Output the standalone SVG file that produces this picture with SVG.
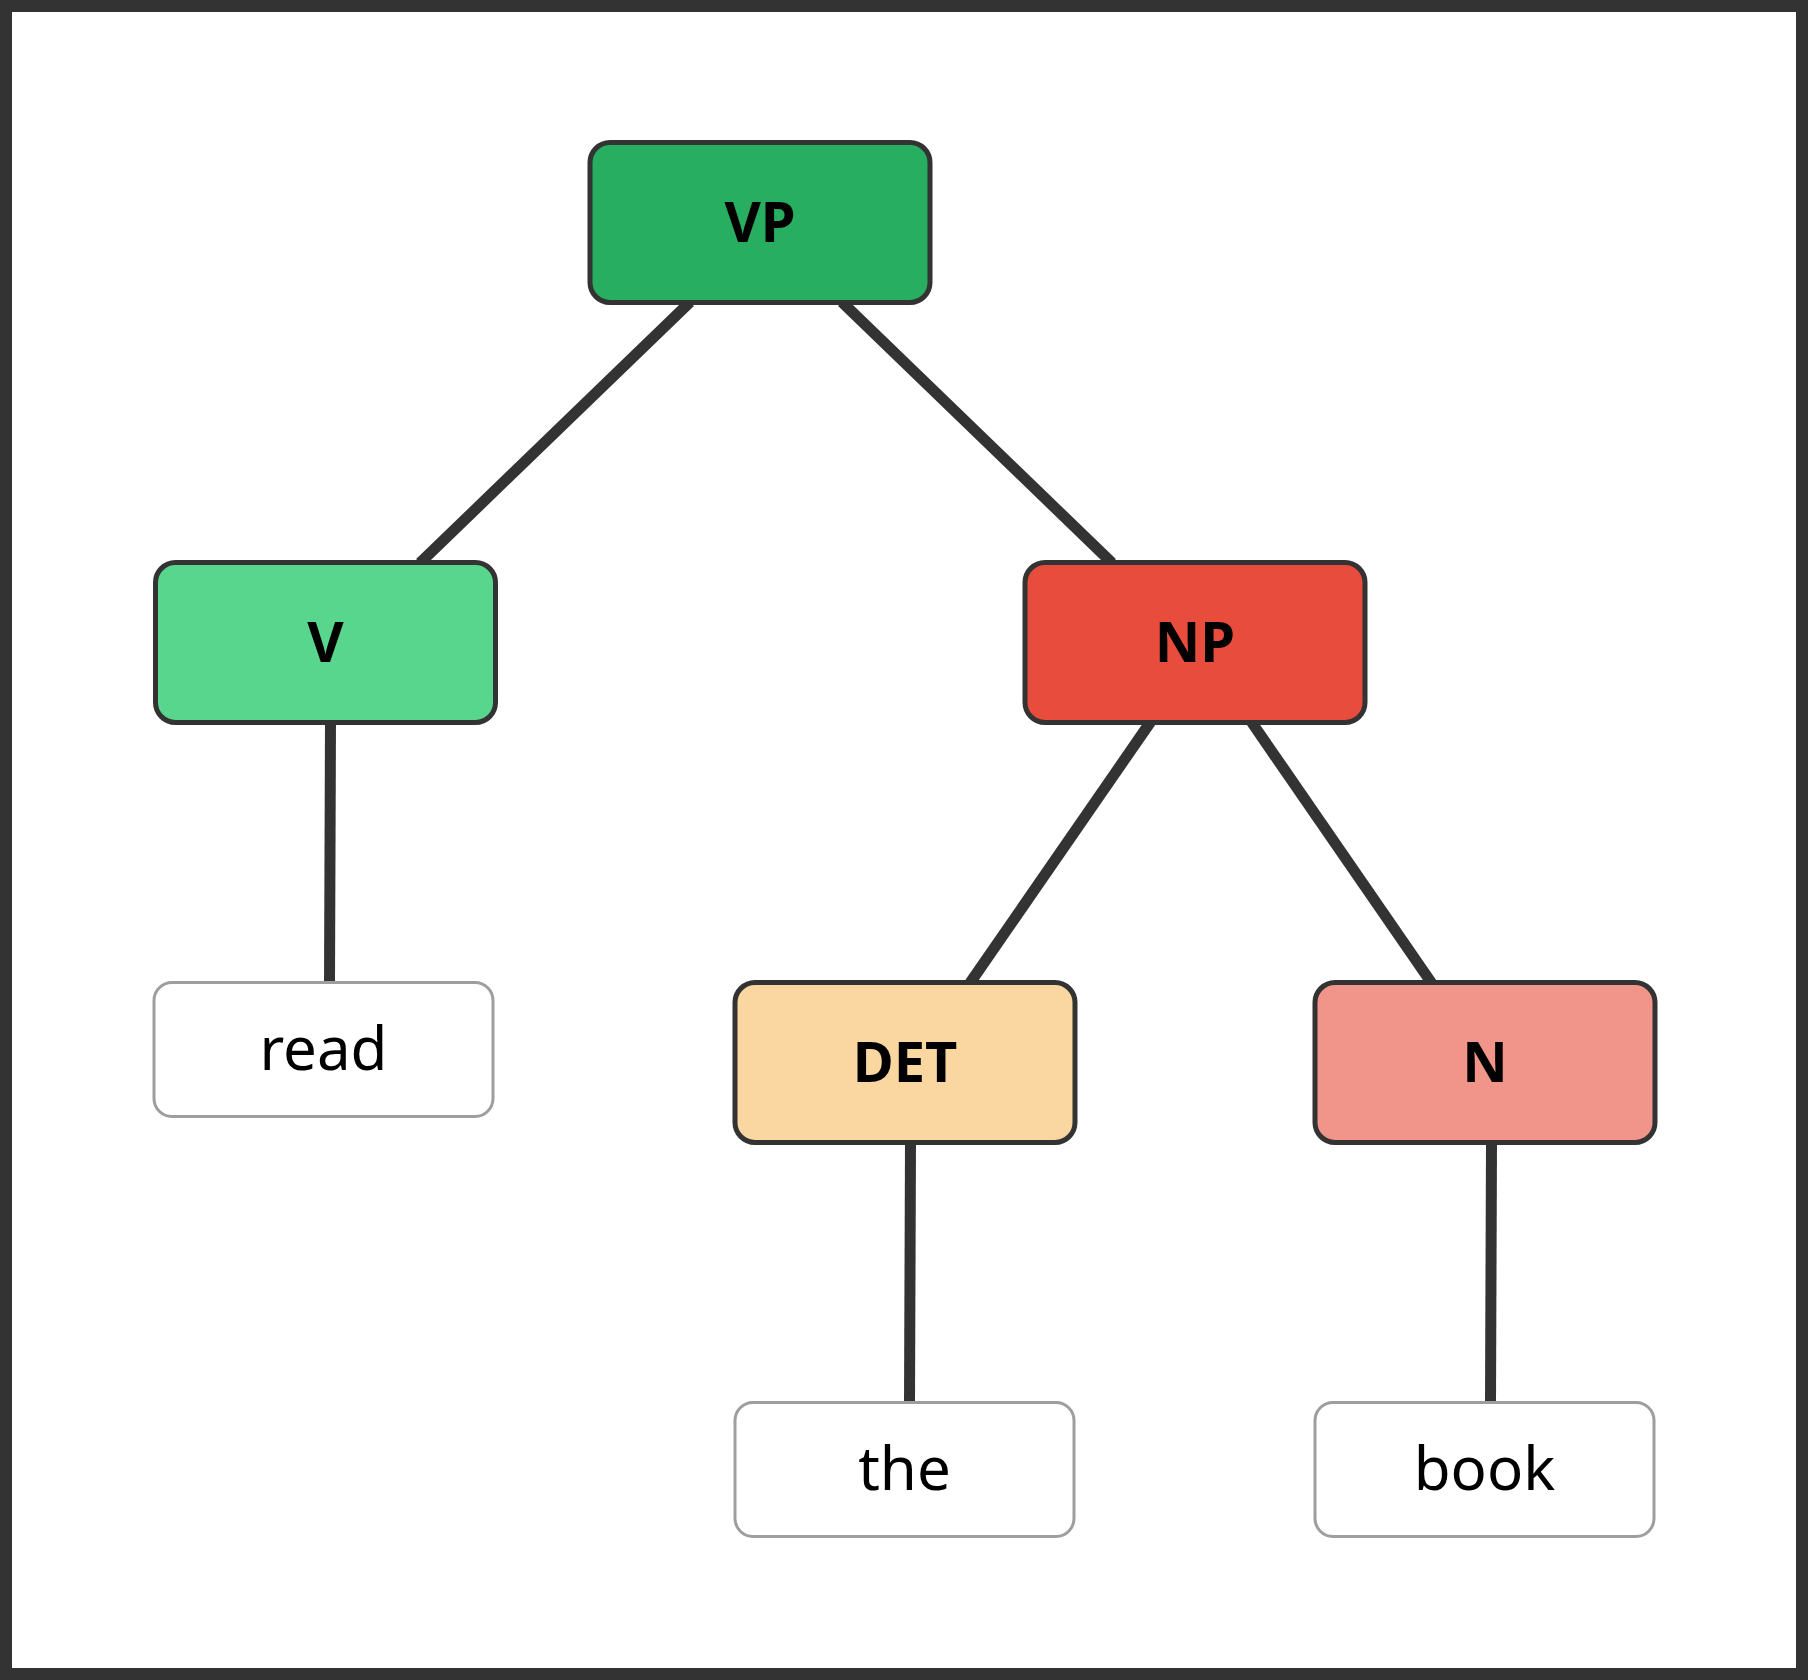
<svg xmlns="http://www.w3.org/2000/svg" width="1808" height="1680" viewBox="0 0 1808 1680">
<style>
.frame{fill:#ffffff;stroke:#333333;stroke-width:12}
.edge{stroke:#333333;stroke-width:11;fill:none;stroke-linecap:butt}
.phrase{stroke:#333333;stroke-width:5}
.leaf{fill:#ffffff;stroke:#9e9e9e;stroke-width:3}
.plabel{font-family:"Noto Sans","DejaVu Sans",sans-serif;font-weight:bold;font-size:56px;fill:#000000;text-anchor:middle}
.llabel{font-family:"Noto Sans","DejaVu Sans",sans-serif;font-size:60px;fill:#000000;text-anchor:middle}
</style>
<rect class="frame" x="6" y="6" width="1796" height="1668"/>
<g id="connectors">
<line class="edge" x1="690.1" y1="302" x2="419.9" y2="563"/>
<line class="edge" x1="841.9" y1="302" x2="1112.1" y2="563"/>
<line class="edge" x1="330.5" y1="722" x2="329.5" y2="984"/>
<line class="edge" x1="1150.5" y1="722" x2="970" y2="983"/>
<line class="edge" x1="1251.5" y1="722" x2="1431.6" y2="983"/>
<line class="edge" x1="910.5" y1="1142" x2="909.5" y2="1404"/>
<line class="edge" x1="1491.5" y1="1142" x2="1490.5" y2="1404"/>
</g>
<g id="node-VP">
<rect class="phrase" x="590" y="142.5" width="340" height="160" rx="20" fill="#27ae60"/>
<text class="plabel" x="760" y="241.5">VP</text>
</g>
<g id="node-V">
<rect class="phrase" x="155.5" y="562.5" width="340" height="160" rx="20" fill="#58d68d"/>
<text class="plabel" x="325.5" y="661.5">V</text>
</g>
<g id="node-NP">
<rect class="phrase" x="1025" y="562.5" width="340" height="160" rx="20" fill="#e74c3c"/>
<text class="plabel" x="1195" y="661.5">NP</text>
</g>
<g id="node-read">
<rect class="leaf" x="154" y="982.5" width="339" height="134" rx="18"/>
<text class="llabel" x="323.5" y="1070">read</text>
</g>
<g id="node-DET">
<rect class="phrase" x="735" y="982.5" width="340" height="160" rx="20" fill="#fad7a0"/>
<text class="plabel" x="905" y="1081.5">DET</text>
</g>
<g id="node-N">
<rect class="phrase" x="1315" y="982.5" width="340" height="160" rx="20" fill="#f1948a"/>
<text class="plabel" x="1485" y="1081.5">N</text>
</g>
<g id="node-the">
<rect class="leaf" x="735" y="1402.5" width="339" height="134" rx="18"/>
<text class="llabel" x="904.5" y="1490">the</text>
</g>
<g id="node-book">
<rect class="leaf" x="1315" y="1402.5" width="339" height="134" rx="18"/>
<text class="llabel" x="1484.5" y="1490">book</text>
</g>
</svg>
